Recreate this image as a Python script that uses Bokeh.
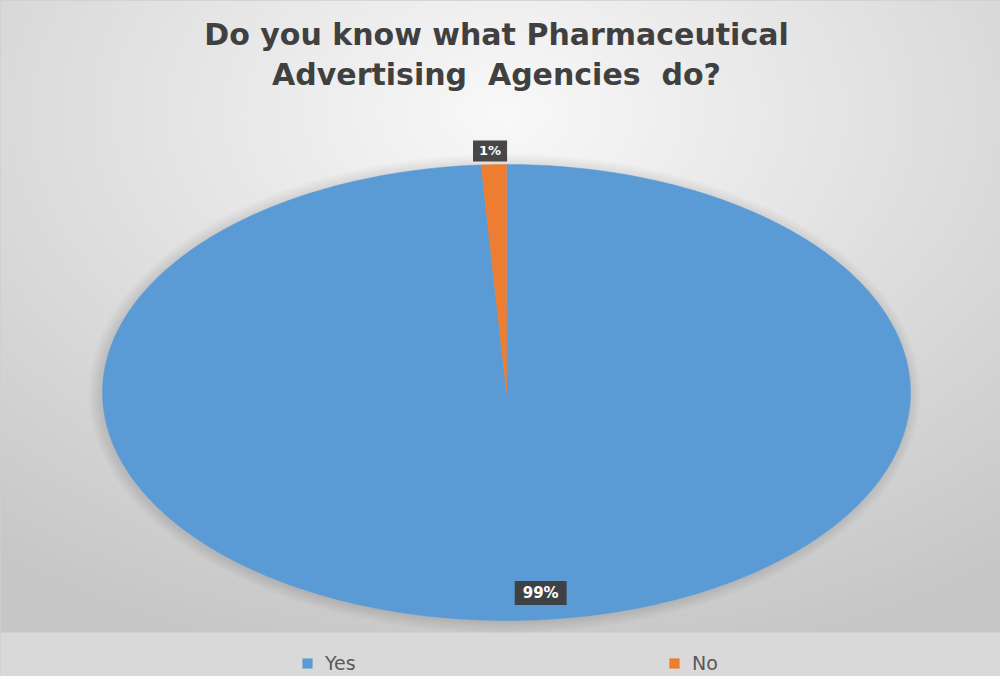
import numpy as np
from bokeh.plotting import figure
from bokeh.models import Range1d, Label, Legend, LegendItem
from bokeh.embed import file_html
from bokeh.resources import INLINE

# ---- data ----
categories = ["Yes", "No"]
values = [99, 1]
colors = ["#5B9BD5", "#ED7D31"]
title_lines = ["Do you know what Pharmaceutical", "Advertising\u00a0 Agencies\u00a0 do?"]

# ---- layout constants (screen-like units, 1 unit = 1 px) ----
W, H = 1000, 676
CX, CY = 506, 284        # pie centre
RX, RY = 404, 228        # ellipse radii
BAND = 43                # legend band height
FONT = "DejaVu Sans"

p = figure(width=W, height=H, output_backend="svg", toolbar_location=None,
           x_range=Range1d(0, W), y_range=Range1d(0, H),
           x_axis_type=None, y_axis_type=None, min_border=0,
           background_fill_color="#ececec", border_fill_color="white")
p.grid.visible = False
p.outline_line_color = "#cfcfcf"

# ---- background gradient (radial, light centre-top, darker toward edges) ----
gw, gh = 250, 169
gx = (np.arange(gw) + 0.5) * W / gw
gy = (np.arange(gh) + 0.5) * H / gh
X, Y = np.meshgrid(gx, gy)
Yref = 684 - Y
d = np.sqrt(((X - 504) / 820.0) ** 2 + ((Yref - 120) / 560.0) ** 2)
v = np.clip(249 - 50 * d, 198, 250)
v = np.where(Y < BAND, 217, v)
v = np.where((Y >= BAND) & (Y < BAND + 2), 224, v)
v = v.astype(np.uint32)
img = (255 << 24) | (v << 16) | (v << 8) | v
p.image_rgba(image=[img.astype(np.uint32)], x=0, y=0, dw=W, dh=H)

# ---- soft shadow behind pie ----
for k in range(24, 0, -3):
    p.ellipse(x=CX - 2, y=CY - 1, width=2 * RX + k, height=2 * RY + k,
              fill_color="black", fill_alpha=0.012, line_color=None)

# ---- pie slices (elliptical, start at 12 o'clock, clockwise) ----
total = float(sum(values))
fr = np.cumsum([0.0] + [v_ / total for v_ in values])
renderers = []
mids = []
for i, cat in enumerate(categories):
    t = np.linspace(fr[i], fr[i + 1], max(4, int(400 * (fr[i + 1] - fr[i])) + 2))
    th = np.pi / 2 - 2 * np.pi * t
    xs = np.concatenate([[CX], CX + RX * np.cos(th)])
    ys = np.concatenate([[CY], CY + RY * np.sin(th)])
    r = p.patch(xs, ys, fill_color=colors[i], line_color=colors[i], line_width=0.5)
    renderers.append(r)
    mids.append(np.pi / 2 - 2 * np.pi * (fr[i] + fr[i + 1]) / 2)

# ---- data labels ----
label_cfg = {"Yes": (0.88, 23, "15px", 8), "No": (1.06, -3, "13px", 6)}
for cat, val, m in zip(categories, values, mids):
    rf, xo, fs, px = label_cfg[cat]
    lab = Label(x=CX + RX * rf * np.cos(m), y=CY + RY * rf * np.sin(m),
                x_offset=xo, text=f"{val}%", text_align="center",
                text_baseline="middle", text_color="white",
                text_font=FONT, text_font_style="bold", text_font_size=fs,
                background_fill_color="#3d3d3d", background_fill_alpha=0.95,
                padding=dict(left=px, right=px, top=3, bottom=3))
    p.add_layout(lab)

# ---- title ----
for j, line in enumerate(title_lines):
    p.add_layout(Label(x=496, y=642 - 40 * j, text=line, text_align="center",
                       text_baseline="alphabetic", text_color="#404040",
                       text_font=FONT, text_font_style="bold",
                       text_font_size="30px"))

# ---- legend ----
items = [LegendItem(label=c, renderers=[r]) for c, r in zip(categories, renderers)]
leg = Legend(items=items, orientation="horizontal", location=(301, 2),
             padding=0, margin=0, spacing=303, glyph_width=12, glyph_height=12,
             label_standoff=12, label_width=40,
             label_text_font=FONT, label_text_font_size="19px",
             label_text_color="#595959", border_line_color=None,
             background_fill_alpha=0)
p.add_layout(leg, "center")

open("out.html", "w").write(file_html(p, INLINE))
